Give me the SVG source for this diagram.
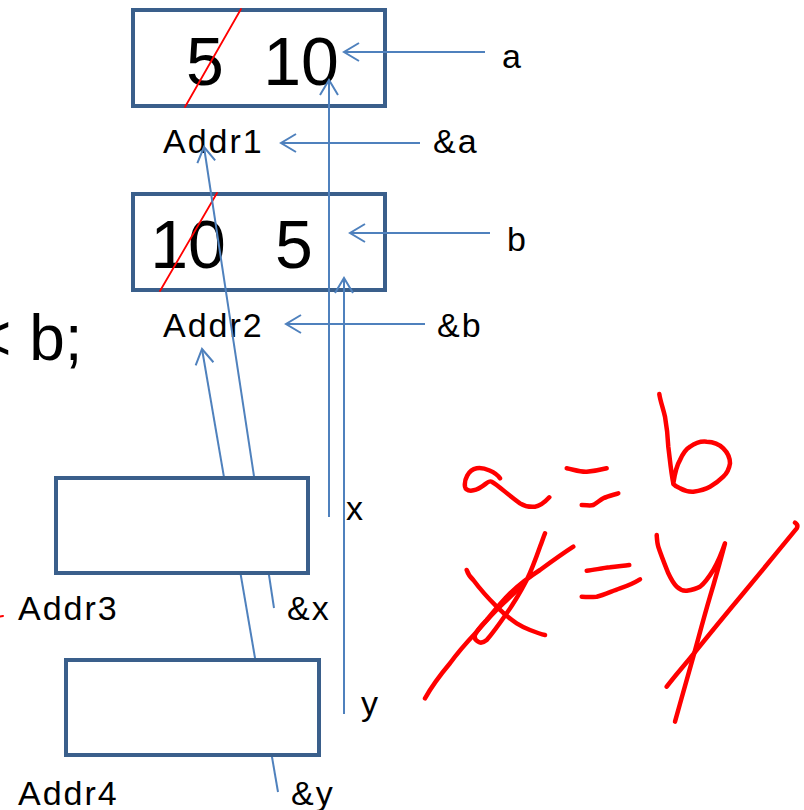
<svg xmlns="http://www.w3.org/2000/svg" width="804" height="810" viewBox="0 0 804 810">
<style>
.box{fill:#fff;stroke:#3A5F8B;stroke-width:4}
.big{font-family:"Liberation Sans",Arial,sans-serif;font-size:68px;fill:#000;text-anchor:middle}
.lbl{font-family:"Liberation Sans",Arial,sans-serif;font-size:34px;fill:#000;letter-spacing:2px}
.con{fill:none;stroke:#4F81BD;stroke-width:2}
.red{fill:none;stroke:#FF0000;stroke-linecap:round;stroke-linejoin:round}
.ink{fill:none;stroke:#FF0000;stroke-width:4.5;stroke-linecap:round;stroke-linejoin:round}
</style>
<defs>
<marker id="ah" viewBox="-17 -11 19 22" markerWidth="19" markerHeight="22" refX="0" refY="0" markerUnits="userSpaceOnUse" orient="auto">
<path d="M-15,-9 L0,0 L-15,9" fill="none" stroke="#4F81BD" stroke-width="2"/>
</marker>
</defs>
<rect width="804" height="810" fill="#fff"/>
<g id="cell-a">
<rect class="box" x="133" y="10" width="252" height="96"/>
<text class="big" x="205" y="85">5</text>
<text class="big" x="301" y="85">10</text>
<line class="red" stroke-width="1.8" x1="185" y1="107" x2="241" y2="9"/>
</g>
<g id="cell-b">
<rect class="box" x="133" y="194" width="252" height="96"/>
<text class="big" x="188" y="268">10</text>
<text class="big" x="294" y="268">5</text>
<line class="red" stroke-width="1.8" x1="160" y1="291" x2="217" y2="193"/>
</g>
<g id="labels">
<text class="lbl" x="502" y="68">a</text>
<text class="lbl" x="163" y="153">Addr1</text>
<text class="lbl" x="433" y="153">&amp;a</text>
<text class="lbl" x="507" y="251">b</text>
<text class="lbl" x="163" y="337">Addr2</text>
<text class="lbl" x="437" y="337">&amp;b</text>
<text class="lbl" x="346" y="520">x</text>
<text class="lbl" x="18" y="620">Addr3</text>
<text class="lbl" x="287" y="620">&amp;x</text>
<text class="lbl" x="361" y="715">y</text>
<text class="lbl" x="18" y="805">Addr4</text>
<text class="lbl" x="291" y="805">&amp;y</text>
<text x="-26" y="360" style="font-family:'Liberation Sans',Arial,sans-serif;font-size:64px;fill:#000">&lt; b;</text>
</g>
<g id="connectors">
<line class="con" x1="485" y1="52" x2="344" y2="52" marker-end="url(#ah)"/>
<line class="con" x1="420" y1="143" x2="281" y2="143" marker-end="url(#ah)"/>
<line class="con" x1="490" y1="233" x2="350" y2="233" marker-end="url(#ah)"/>
<line class="con" x1="425" y1="324" x2="286" y2="324" marker-end="url(#ah)"/>
<line class="con" x1="329" y1="517" x2="329" y2="80" marker-end="url(#ah)"/>
<line class="con" x1="344" y1="714" x2="344" y2="278" marker-end="url(#ah)"/>
<line class="con" x1="274" y1="608" x2="204" y2="147" marker-end="url(#ah)"/>
<line class="con" x1="278" y1="792" x2="202" y2="349" marker-end="url(#ah)"/>
</g>
<g id="cell-x">
<rect class="box" x="56" y="478" width="252" height="95"/>
</g>
<g id="cell-y">
<rect class="box" x="66" y="660" width="253" height="95"/>
</g>
<g id="handwriting">
<line class="red" stroke-width="2" x1="0" y1="616.5" x2="3" y2="616"/>
<path class="ink" d="M500,478.3 C496,472 484,467 476.7,468.3 C468,470 464,480 465,486.7 C466,492 474,492 481.7,486.7 C486,484 489,480 491.7,481.7 C498,485 508,495 520,503.3 C526,507 532,507 535,506.7 C540,506 545,502 549.3,497.3"/>
<path class="ink" d="M566.7,468.3 C575,470 580,472 586.7,471.7 C595,471 600,470 606.7,468.3"/>
<path class="ink" d="M581.7,505 C587,505 590,506 593.3,505 C597,503 600,500 603.3,498.3 C608,496 613,495 618.3,493.3"/>
<path class="ink" d="M659.3,394 C660,400 663,408 665,416.7 C667,428 668,440 668.3,446.7 C670,460 671,472 673.3,483.3 C675,472 677,465 680,460 C683,453 686,449 690,446.7 C695,443 700,441 706.7,441.7 C715,442 721,446 723.3,448.3 C728,453 730,458 730,463.3 C729,470 727,473 723.3,476.7 C719,481 715,484 710,486.7 C704,490 698,491 693.3,491.7 C688,492 683,490 680,488.3 C677,487 675,486 673.3,484"/>
<path class="ink" d="M466.7,570 C468,574 470,577 473.3,580 C480,589 488,598 496.7,606.7 C503,613 510,619 516.7,623.3 C521,626 525,628 530,630 C535,632 540,634 545,635"/>
<path class="ink" d="M545,533.3 C543,538 542,542 540,546.7 C536,558 532,569 526.7,580 C521,591 514,603 506.7,613.3 C500,623 493,633 486.7,640 C483,643 480,643 478.3,641.7 C475,640 474,638 475,635 C477,630 482,625 486.7,620 C494,611 502,601 510,593.3 C519,585 529,577 540,570 C551,562 562,554 573.3,546.7"/>
<path class="ink" d="M425,698.3 C432,686 441,674 450,663.3 C458,652 467,642 476.7,631.7 C485,622 494,612 503.3,603.3 C510,597 516,591 523.3,585"/>
<path class="ink" d="M586.7,570.7 C594,570 602,568 610,567.3 C617,566 623,566 629.3,565"/>
<path class="ink" d="M581.7,596.7 C587,597 592,597 596.7,596.7 C604,595 612,591 620,588.3 C627,586 634,583 640,579.3"/>
<path class="ink" d="M656.7,535 C657,539 657,543 658.3,546.7 C661,555 665,565 668.3,573.3 C671,579 673,583 676.7,586.7 C680,590 683,591 686.7,590.7 C691,590 696,589 700,586.7 C705,583 709,577 713.3,570 C718,562 722,552 725,543.3 C720,562 715,580 710,596.7 C704,617 699,636 693.3,656.7 C687,679 681,700 675,721.7"/>
<path class="ink" d="M666.7,686.7 C674,677 682,668 690,658.3 C708,636 726,614 743.3,593.3 C761,572 779,550 796.7,528.3 C798,526 797,524 795,522.7"/>
</g>
</svg>
